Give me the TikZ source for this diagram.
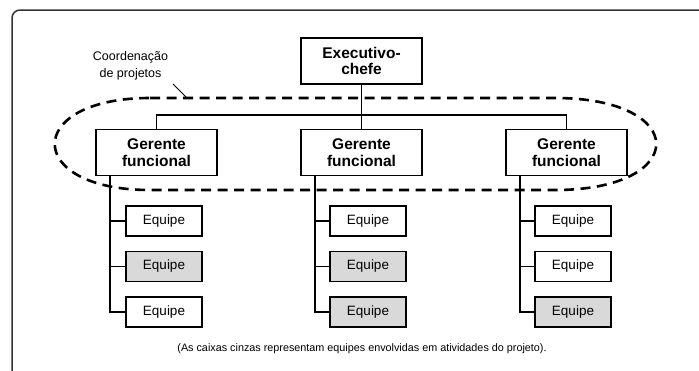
\documentclass[tikz,border=0pt]{standalone}
\usepackage{fontspec}
\setmainfont{Liberation Sans}
\begin{document}
\begin{tikzpicture}[x=1pt,y=-1pt]
			\tikzstyle{chefe} = [draw, line width=1.2pt, minimum width=121pt, minimum height=46pt, inner sep=0pt, align=center, font=\fontsize{15.5}{16.5}\selectfont\bfseries]
			\tikzstyle{equipe} = [draw, line width=1.2pt, minimum width=76pt, minimum height=30pt, inner sep=0pt, font=\fontsize{13.5}{15}\selectfont]
			\tikzstyle{cinza} = [equipe, fill=black!15]
			\tikzstyle{ramo} = [line width=1.2pt]
			\tikzstyle{coord} = [line width=2.6pt, dash pattern=on 10pt off 6.5pt]
			\useasboundingbox (0,0) rectangle (699,370);
			\draw[line width=1.5pt, black!80, rounded corners=8pt] (699,10) -- (12,10) -- (12,372);
			% topo
			\node[chefe] (exec) at (361.5,61) {Executivo-\\chefe};
			\node[chefe] (gerente-1) at (156.5,152.5) {Gerente\\funcional};
			\node[chefe] (gerente-2) at (361.5,152.5) {Gerente\\funcional};
			\node[chefe] (gerente-3) at (566.5,152.5) {Gerente\\funcional};
			\coordinate (bus) at (361.5,115);
			\draw[ramo] (exec.south) -- (gerente-2.north);
			\draw[ramo] (gerente-1.north) -- (gerente-1.north |- bus) -- (gerente-3.north |- bus) -- (gerente-3.north);
			% equipes
			\node[equipe] (equipe-1-1) at (164,221) {Equipe};
			\node[cinza] (equipe-1-2) at (164,266.5) {Equipe};
			\node[equipe] (equipe-1-3) at (164,312) {Equipe};
			\node[equipe] (equipe-2-1) at (368,221) {Equipe};
			\node[cinza] (equipe-2-2) at (368,266.5) {Equipe};
			\node[cinza] (equipe-2-3) at (368,312) {Equipe};
			\node[equipe] (equipe-3-1) at (573,221) {Equipe};
			\node[equipe] (equipe-3-2) at (573,266.5) {Equipe};
			\node[cinza] (equipe-3-3) at (573,312) {Equipe};
			\foreach \g in {1,2,3} {
				\coordinate (tronco-\g) at ([xshift=14.5pt]gerente-\g.south west);
				\draw[ramo] (tronco-\g) |- (equipe-\g-3.west);
				\draw[ramo] (tronco-\g |- equipe-\g-1.west) -- (equipe-\g-1.west);
				\draw[ramo] (tronco-\g |- equipe-\g-2.west) -- (equipe-\g-2.west);
			}
			% coordenacao de projetos
			\draw[coord] (150,98) -- (555,98) .. controls (690,98) and (690,190) .. (555,190) -- (150,190) .. controls (23,190) and (23,98) .. (150,98);
			\coordinate (laco) at (187,98);
			\node[align=center, font=\fontsize{12.5}{17}\selectfont] (rotulo) at (130.5,66) {Coordenação\\de projetos};
			\draw[line width=1pt] (173,84) -- (laco);
			\node[font=\fontsize{10.8}{12}\selectfont] (legenda) at (362,349) {(As caixas cinzas representam equipes envolvidas em atividades do projeto).};
		\end{tikzpicture}
\end{document}
